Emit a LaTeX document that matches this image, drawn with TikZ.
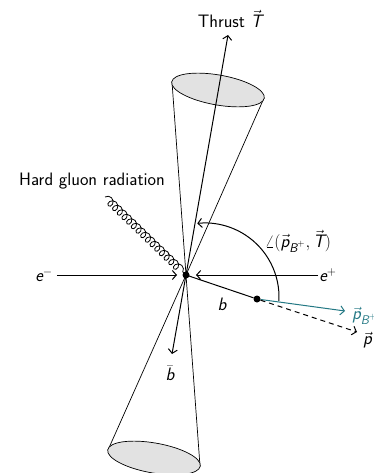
\documentclass[tikz,border=0pt]{standalone}
\usepackage{amsmath}
\usetikzlibrary{decorations.pathmorphing,arrows.meta}
\definecolor{tealB}{RGB}{35,120,132}
\definecolor{conefill}{RGB}{226,226,226}
\begin{document}
\begin{tikzpicture}[x=1pt,y=-1pt,
  every node/.style={font=\sffamily\fontsize{18}{21}\selectfont, inner sep=1pt},
  cone/.style={line width=0.7pt},
  capfill/.style={draw, line width=0.7pt, fill=conefill},
  vec/.style={line width=1pt, -{Straight Barb[length=4pt,width=9pt]}},
  dot/.style={circle, fill=black, inner sep=0pt, minimum size=7pt}]
\clip (0,0) rectangle (373,473);
\fill[white] (0,0) rectangle (373,473);
\coordinate (V) at (186,275);
% upper cone
\coordinate (U1) at (172,82);
\coordinate (U2) at (264,98);
\draw[cone] (U1) -- (V) -- (U2);
\draw[capfill, rotate around={-10:(218,90)}] (218,90) ellipse [x radius=47, y radius=15];
% lower cone
\coordinate (L1) at (108,450);
\coordinate (L2) at (200,466);
\draw[cone] (L1) -- (V) -- (L2);
\draw[capfill, rotate around={-10:(154,458)}] (154,458) ellipse [x radius=47, y radius=15];
% thrust axis
\coordinate (Ttip) at (228,35);
\node (thr) at (230,19) {Thrust $\vec{\textit{T}}$};
\draw[vec] (V) -- (Ttip);
% b bar
\coordinate (bbtip) at (172,354);
\draw[vec] (V) -- (bbtip);
\node (bb) at (170,373) {$\bar{\textit{b}}$};
% gluon
\coordinate (G) at (105,197);
\draw[line width=0.8pt, decorate, decoration={coil, amplitude=4pt, segment length=6.5pt, aspect=0.9}] (G) -- (V);
\node (glab) at (92,181) {Hard gluon radiation};
% beams
\node (em) at (44,275) {$\textit{e}^-$};
\draw[vec, shorten <=3pt, shorten >=9pt] (em) -- (V);
\node (ep) at (328,275) {$\textit{e}^+$};
\draw[vec, shorten >=10pt] (ep) -- (V);
% b quark and B meson
\node[dot] (Bv) at (257,299) {};
\draw[line width=1pt] (V) -- (Bv);
\node (blab) at (222,304) {$\textit{b}$};
\coordinate (pBtip) at (345,311);
\draw[vec, tealB] (Bv) -- (pBtip);
\node[anchor=west, text=tealB] (pB) at (351,316) {$\vec{\textit{p}}_{\textit{B}^+}$};
\coordinate (pdtip) at (357,332);
\draw[vec, dashed, dash pattern=on 5pt off 4pt] (Bv) -- (pdtip);
\node[anchor=west] (pd) at (362,340) {$\vec{\textit{p}}$};
% angle
\coordinate (ac) at (205,297);
\draw[vec] (ac) ++(3:74) arc[start angle=3, end angle=-96, radius=74];
\node (alab) at (298,241) {$\angle(\vec{\textit{p}}_{\textit{B}^+}, \vec{\textit{T}})$};
% vertex
\node[dot] (Vd) at (V) {};
\end{tikzpicture}
\end{document}
